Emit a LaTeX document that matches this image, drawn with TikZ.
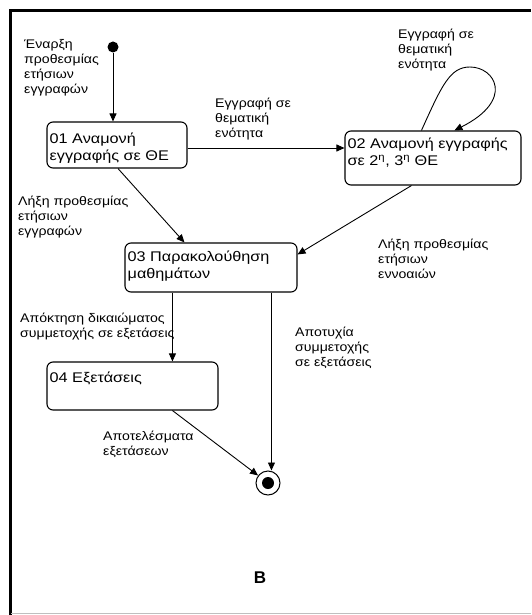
\documentclass[tikz,border=0pt]{standalone}
\usepackage{fontspec}
\setmainfont{Liberation Sans}
\newfontfamily\boxfont[FakeStretch=1.16]{Liberation Sans}
\newfontfamily\lblfont[FakeStretch=1.13]{Liberation Sans}
\usetikzlibrary{arrows.meta,calc}
\begin{document}
\begin{tikzpicture}[x=1pt,y=-1pt,
  state/.style={draw, line width=1.1pt, rounded corners=6pt, inner sep=0pt},
  btext/.style={anchor=north west, align=left, inner sep=0pt, font=\boxfont\fontsize{14}{17}\selectfont},
  lbl/.style={anchor=north west, align=left, inner sep=0pt, font=\lblfont\fontsize{12.5}{15}\selectfont},
  conn/.style={line width=0.9pt, -{Triangle[length=8pt,width=7pt]}}]
\useasboundingbox (0,0) rectangle (531,615);
\draw[line width=3pt] (10,615) -- (10,11) -- (531,11);
\draw[gray!50, line width=1pt] (11,613.5) -- (531,613.5);

\node[circle, fill, minimum size=11pt, inner sep=0pt] (init) at (113,47) {};
\node[state, minimum width=140pt, minimum height=46pt] (b01) at (117,145) {};
\node[state, minimum width=176pt, minimum height=54pt] (b02) at (433,158) {};
\node[state, minimum width=172pt, minimum height=49pt] (b03) at (211,267.5) {};
\node[state, minimum width=171pt, minimum height=48pt] (b04) at (132.5,386) {};
\node[circle, draw, line width=1pt, minimum size=24pt, inner sep=0pt] (fin) at (268,483) {};
\node[circle, fill, minimum size=12pt, inner sep=0pt] (findot) at (fin) {};

\node[btext] (t01) at ([shift={(3pt,-11pt)}]b01.north west) {01 Αναμονή\\εγγραφής σε ΘΕ};
\node[btext] (t02) at ([shift={(3pt,-7.5pt)}]b02.north west) {02 Αναμονή εγγραφής\\σε 2\textsuperscript{η}, 3\textsuperscript{η} ΘΕ};
\node[btext] (t03) at ([shift={(3pt,-8.5pt)}]b03.north west) {03 Παρακολούθηση\\μαθημάτων};
\node[btext] (t04) at ([shift={(3pt,-10.5pt)}]b04.north west) {04 Εξετάσεις};

\node[lbl] (lStart) at (24,39) {Έναρξη\\προθεσμίας\\ετήσιων\\εγγραφών};
\node[lbl] (lReg) at (215,98) {Εγγραφή σε\\θεματική\\ενότητα};
\node[lbl] (lLoop) at (398,29) {Εγγραφή σε\\θεματική\\ενότητα};
\node[lbl] (lEnd1) at (18,196) {Λήξη προθεσμίας\\ετήσιων\\εγγραφών};
\node[lbl] (lEnd2) at (378,239) {Λήξη προθεσμίας\\ετήσιων\\εννοαιών};
\node[lbl] (lRight) at (20,313) {Απόκτηση δικαιώματος\\συμμετοχής σε εξετάσεις};
\node[lbl] (lExam) at (103,431) {Αποτελέσματα\\εξετάσεων};
\node[lbl] (lFail) at (295,327) {Αποτυχία\\συμμετοχής\\σε εξετάσεις};
\node[font=\fontsize{17}{17}\selectfont\bfseries] (lB) at (260,578) {B};

\coordinate (h) at (0,148);
\draw[conn] (init) -- (init |- b01.north);
\draw[conn] (b01.east |- h) -- (b02.west |- h);
\draw[conn] ([xshift=1pt]b01.south) -- ([xshift=60pt]b03.north west);
\draw[conn] ([xshift=67pt]b02.south west) -- ([yshift=-12pt]b03.north east);
\draw[conn] ([xshift=77pt]b02.north west) .. controls (442,85) and (450,67) .. (470,67)
  .. controls (495,67) and (515,100) .. ([xshift=110pt]b02.north west);
\draw[conn] ([xshift=48pt]b03.south west) -- ([xshift=48pt]b03.south west |- b04.north);
\draw[conn] ([xshift=147pt]b03.south west) -- ([xshift=147pt]b03.south west |- fin.north);
\draw[conn] ([xshift=126pt]b04.south west) -- (fin);
\end{tikzpicture}
\end{document}
